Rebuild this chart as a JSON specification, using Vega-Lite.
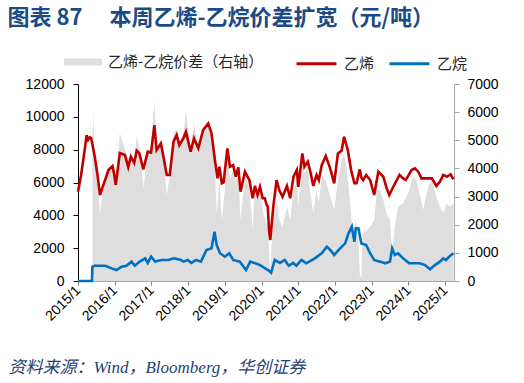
{
  "$schema": "https://vega.github.io/schema/vega-lite/v6.json",
  "width": 376,
  "height": 197,
  "autosize": {"type": "none"},
  "padding": {"left": 78, "top": 84, "right": 70, "bottom": 102},
  "background": "white",
  "config": {"view": {"stroke": null}, "axis": {"grid": false}},
  "datasets": {
    "spread": [
      {"date": "2015-05-24", "series": "乙烯-乙烷价差（右轴）", "value": 5000},
      {"date": "2015-06-03", "series": "乙烯-乙烷价差（右轴）", "value": 5960},
      {"date": "2015-06-14", "series": "乙烯-乙烷价差（右轴）", "value": 4770},
      {"date": "2015-07-13", "series": "乙烯-乙烷价差（右轴）", "value": 3800},
      {"date": "2015-08-08", "series": "乙烯-乙烷价差（右轴）", "value": 2400},
      {"date": "2015-09-06", "series": "乙烯-乙烷价差（右轴）", "value": 3230},
      {"date": "2015-10-31", "series": "乙烯-乙烷价差（右轴）", "value": 4000},
      {"date": "2015-12-10", "series": "乙烯-乙烷价差（右轴）", "value": 4150},
      {"date": "2016-01-12", "series": "乙烯-乙烷价差（右轴）", "value": 3290},
      {"date": "2016-02-21", "series": "乙烯-乙烷价差（右轴）", "value": 5250},
      {"date": "2016-03-25", "series": "乙烯-乙烷价差（右轴）", "value": 4890},
      {"date": "2016-05-15", "series": "乙烯-乙烷价差（右轴）", "value": 4290},
      {"date": "2016-06-10", "series": "乙烯-乙烷价差（右轴）", "value": 4600},
      {"date": "2016-07-13", "series": "乙烯-乙烷价差（右轴）", "value": 4300},
      {"date": "2016-08-07", "series": "乙烯-乙烷价差（右轴）", "value": 5130},
      {"date": "2016-09-12", "series": "乙烯-乙烷价差（右轴）", "value": 4650},
      {"date": "2016-10-12", "series": "乙烯-乙烷价差（右轴）", "value": 3290},
      {"date": "2016-11-25", "series": "乙烯-乙烷价差（右轴）", "value": 4650},
      {"date": "2016-12-28", "series": "乙烯-乙烷价差（右轴）", "value": 4700},
      {"date": "2017-01-30", "series": "乙烯-乙烷价差（右轴）", "value": 6430},
      {"date": "2017-02-21", "series": "乙烯-乙烷价差（右轴）", "value": 4650},
      {"date": "2017-04-05", "series": "乙烯-乙烷价差（右轴）", "value": 5000},
      {"date": "2017-04-30", "series": "乙烯-乙烷价差（右轴）", "value": 4500},
      {"date": "2017-06-02", "series": "乙烯-乙烷价差（右轴）", "value": 3060},
      {"date": "2017-07-02", "series": "乙烯-乙烷价差（右轴）", "value": 3720},
      {"date": "2017-08-08", "series": "乙烯-乙烷价差（右轴）", "value": 5250},
      {"date": "2017-09-09", "series": "乙烯-乙烷价差（右轴）", "value": 5370},
      {"date": "2017-10-05", "series": "乙烯-乙烷价差（右轴）", "value": 4890},
      {"date": "2017-11-14", "series": "乙烯-乙烷价差（右轴）", "value": 5200},
      {"date": "2017-12-10", "series": "乙烯-乙烷价差（右轴）", "value": 6010},
      {"date": "2018-01-26", "series": "乙烯-乙烷价差（右轴）", "value": 4650},
      {"date": "2018-02-28", "series": "乙烯-乙烷价差（右轴）", "value": 5600},
      {"date": "2018-04-12", "series": "乙烯-乙烷价差（右轴）", "value": 4770},
      {"date": "2018-05-30", "series": "乙烯-乙烷价差（右轴）", "value": 5480},
      {"date": "2018-07-20", "series": "乙烯-乙烷价差（右轴）", "value": 5600},
      {"date": "2018-08-22", "series": "乙烯-乙烷价差（右轴）", "value": 5070},
      {"date": "2018-09-24", "series": "乙烯-乙烷价差（右轴）", "value": 3940},
      {"date": "2018-10-12", "series": "乙烯-乙烷价差（右轴）", "value": 2400},
      {"date": "2018-11-07", "series": "乙烯-乙烷价差（右轴）", "value": 3580},
      {"date": "2018-12-02", "series": "乙烯-乙烷价差（右轴）", "value": 2170},
      {"date": "2019-01-01", "series": "乙烯-乙烷价差（右轴）", "value": 3230},
      {"date": "2019-01-26", "series": "乙烯-乙烷价差（右轴）", "value": 4590},
      {"date": "2019-02-21", "series": "乙烯-乙烷价差（右轴）", "value": 3580},
      {"date": "2019-03-25", "series": "乙烯-乙烷价差（右轴）", "value": 3940},
      {"date": "2019-04-20", "series": "乙烯-乙烷价差（右轴）", "value": 3580},
      {"date": "2019-05-15", "series": "乙烯-乙烷价差（右轴）", "value": 3880},
      {"date": "2019-06-06", "series": "乙烯-乙烷价差（右轴）", "value": 2170},
      {"date": "2019-07-20", "series": "乙烯-乙烷价差（右轴）", "value": 3700},
      {"date": "2019-09-02", "series": "乙烯-乙烷价差（右轴）", "value": 3350},
      {"date": "2019-10-05", "series": "乙烯-乙烷价差（右轴）", "value": 1810},
      {"date": "2019-10-27", "series": "乙烯-乙烷价差（右轴）", "value": 3230},
      {"date": "2019-11-22", "series": "乙烯-乙烷价差（右轴）", "value": 2900},
      {"date": "2019-12-17", "series": "乙烯-乙烷价差（右轴）", "value": 3230},
      {"date": "2020-01-19", "series": "乙烯-乙烷价差（右轴）", "value": 2400},
      {"date": "2020-02-21", "series": "乙烯-乙烷价差（右轴）", "value": 2050},
      {"date": "2020-03-06", "series": "乙烯-乙烷价差（右轴）", "value": 1810},
      {"date": "2020-03-17", "series": "乙烯-乙烷价差（右轴）", "value": 980},
      {"date": "2020-03-28", "series": "乙烯-乙烷价差（右轴）", "value": 100},
      {"date": "2020-04-12", "series": "乙烯-乙烷价差（右轴）", "value": 1500},
      {"date": "2020-04-27", "series": "乙烯-乙烷价差（右轴）", "value": 2050},
      {"date": "2020-05-30", "series": "乙烯-乙烷价差（右轴）", "value": 3000},
      {"date": "2020-06-25", "series": "乙烯-乙烷价差（右轴）", "value": 2170},
      {"date": "2020-07-28", "series": "乙烯-乙烷价差（右轴）", "value": 1930},
      {"date": "2020-09-10", "series": "乙烯-乙烷价差（右轴）", "value": 2640},
      {"date": "2020-10-12", "series": "乙烯-乙烷价差（右轴）", "value": 2170},
      {"date": "2020-11-14", "series": "乙烯-乙烷价差（右轴）", "value": 3230},
      {"date": "2020-12-17", "series": "乙烯-乙烷价差（右轴）", "value": 3580},
      {"date": "2021-01-01", "series": "乙烯-乙烷价差（右轴）", "value": 2640},
      {"date": "2021-02-10", "series": "乙烯-乙烷价差（右轴）", "value": 4300},
      {"date": "2021-03-03", "series": "乙烯-乙烷价差（右轴）", "value": 3820},
      {"date": "2021-04-05", "series": "乙烯-乙烷价差（右轴）", "value": 4060},
      {"date": "2021-04-27", "series": "乙烯-乙烷价差（右轴）", "value": 3230},
      {"date": "2021-05-30", "series": "乙烯-乙烷价差（右轴）", "value": 2400},
      {"date": "2021-07-02", "series": "乙烯-乙烷价差（右轴）", "value": 3230},
      {"date": "2021-07-24", "series": "乙烯-乙烷价差（右轴）", "value": 2760},
      {"date": "2021-08-22", "series": "乙烯-乙烷价差（右轴）", "value": 3700},
      {"date": "2021-10-01", "series": "乙烯-乙烷价差（右轴）", "value": 3580},
      {"date": "2021-11-14", "series": "乙烯-乙烷价差（右轴）", "value": 3000},
      {"date": "2021-12-24", "series": "乙烯-乙烷价差（右轴）", "value": 2520},
      {"date": "2022-01-30", "series": "乙烯-乙烷价差（右轴）", "value": 3580},
      {"date": "2022-03-08", "series": "乙烯-乙烷价差（右轴）", "value": 4300},
      {"date": "2022-04-01", "series": "乙烯-乙烷价差（右轴）", "value": 4530},
      {"date": "2022-05-08", "series": "乙烯-乙烷价差（右轴）", "value": 3700},
      {"date": "2022-06-10", "series": "乙烯-乙烷价差（右轴）", "value": 2400},
      {"date": "2022-07-02", "series": "乙烯-乙烷价差（右轴）", "value": 1220},
      {"date": "2022-07-20", "series": "乙烯-乙烷价差（右轴）", "value": 2170},
      {"date": "2022-08-22", "series": "乙烯-乙烷价差（右轴）", "value": 1460},
      {"date": "2022-09-05", "series": "乙烯-乙烷价差（右轴）", "value": 200},
      {"date": "2022-09-20", "series": "乙烯-乙烷价差（右轴）", "value": 100},
      {"date": "2022-10-01", "series": "乙烯-乙烷价差（右轴）", "value": 1700},
      {"date": "2022-11-14", "series": "乙烯-乙烷价差（右轴）", "value": 1810},
      {"date": "2022-12-17", "series": "乙烯-乙烷价差（右轴）", "value": 1930},
      {"date": "2023-01-26", "series": "乙烯-乙烷价差（右轴）", "value": 2170},
      {"date": "2023-02-21", "series": "乙烯-乙烷价差（右轴）", "value": 3230},
      {"date": "2023-03-25", "series": "乙烯-乙烷价差（右轴）", "value": 3230},
      {"date": "2023-04-27", "series": "乙烯-乙烷价差（右轴）", "value": 2880},
      {"date": "2023-05-30", "series": "乙烯-乙烷价差（右轴）", "value": 2400},
      {"date": "2023-07-02", "series": "乙烯-乙烷价差（右轴）", "value": 2170},
      {"date": "2023-07-24", "series": "乙烯-乙烷价差（右轴）", "value": 980},
      {"date": "2023-08-19", "series": "乙烯-乙烷价差（右轴）", "value": 1930},
      {"date": "2023-09-20", "series": "乙烯-乙烷价差（右轴）", "value": 2640},
      {"date": "2023-11-10", "series": "乙烯-乙烷价差（右轴）", "value": 2760},
      {"date": "2023-12-28", "series": "乙烯-乙烷价差（右轴）", "value": 3110},
      {"date": "2024-02-17", "series": "乙烯-乙烷价差（右轴）", "value": 3700},
      {"date": "2024-03-21", "series": "乙烯-乙烷价差（右轴）", "value": 3580},
      {"date": "2024-04-23", "series": "乙烯-乙烷价差（右轴）", "value": 3110},
      {"date": "2024-05-26", "series": "乙烯-乙烷价差（右轴）", "value": 2520},
      {"date": "2024-07-17", "series": "乙烯-乙烷价差（右轴）", "value": 3350},
      {"date": "2024-08-22", "series": "乙烯-乙烷价差（右轴）", "value": 3580},
      {"date": "2024-10-05", "series": "乙烯-乙烷价差（右轴）", "value": 3000},
      {"date": "2024-11-10", "series": "乙烯-乙烷价差（右轴）", "value": 2640},
      {"date": "2024-12-13", "series": "乙烯-乙烷价差（右轴）", "value": 2400},
      {"date": "2025-01-16", "series": "乙烯-乙烷价差（右轴）", "value": 2760},
      {"date": "2025-02-17", "series": "乙烯-乙烷价差（右轴）", "value": 2640},
      {"date": "2025-03-25", "series": "乙烯-乙烷价差（右轴）", "value": 2760}
    ],
    "lines": [
      {"date": "2015-01-01", "series": "乙烯", "value": 5440},
      {"date": "2015-01-30", "series": "乙烯", "value": 6400},
      {"date": "2015-02-28", "series": "乙烯", "value": 7600},
      {"date": "2015-03-28", "series": "乙烯", "value": 8890},
      {"date": "2015-04-12", "series": "乙烯", "value": 8600},
      {"date": "2015-04-30", "series": "乙烯", "value": 8750},
      {"date": "2015-05-12", "series": "乙烯", "value": 8700},
      {"date": "2015-06-17", "series": "乙烯", "value": 7570},
      {"date": "2015-07-13", "series": "乙烯", "value": 6500},
      {"date": "2015-08-08", "series": "乙烯", "value": 5240},
      {"date": "2015-09-02", "series": "乙烯", "value": 5700},
      {"date": "2015-09-28", "series": "乙烯", "value": 6150},
      {"date": "2015-10-31", "series": "乙烯", "value": 6760},
      {"date": "2015-12-10", "series": "乙烯", "value": 7000},
      {"date": "2015-12-24", "series": "乙烯", "value": 6600},
      {"date": "2016-01-12", "series": "乙烯", "value": 5850},
      {"date": "2016-02-21", "series": "乙烯", "value": 7790},
      {"date": "2016-04-12", "series": "乙烯", "value": 7670},
      {"date": "2016-05-15", "series": "乙烯", "value": 6940},
      {"date": "2016-06-10", "series": "乙烯", "value": 7570},
      {"date": "2016-07-13", "series": "乙烯", "value": 7190},
      {"date": "2016-08-07", "series": "乙烯", "value": 7940},
      {"date": "2016-09-02", "series": "乙烯", "value": 7790},
      {"date": "2016-10-12", "series": "乙烯", "value": 6800},
      {"date": "2016-11-25", "series": "乙烯", "value": 7880},
      {"date": "2016-12-28", "series": "乙烯", "value": 7820},
      {"date": "2017-01-30", "series": "乙烯", "value": 9500},
      {"date": "2017-02-21", "series": "乙烯", "value": 7980},
      {"date": "2017-04-05", "series": "乙烯", "value": 8380},
      {"date": "2017-04-30", "series": "乙烯", "value": 7570},
      {"date": "2017-06-02", "series": "乙烯", "value": 6460},
      {"date": "2017-07-02", "series": "乙烯", "value": 6460},
      {"date": "2017-08-08", "series": "乙烯", "value": 8480},
      {"date": "2017-09-09", "series": "乙烯", "value": 8890},
      {"date": "2017-10-05", "series": "乙烯", "value": 8280},
      {"date": "2017-11-14", "series": "乙烯", "value": 8690},
      {"date": "2017-12-10", "series": "乙烯", "value": 9090},
      {"date": "2018-01-26", "series": "乙烯", "value": 7880},
      {"date": "2018-02-28", "series": "乙烯", "value": 8690},
      {"date": "2018-04-12", "series": "乙烯", "value": 8080},
      {"date": "2018-05-30", "series": "乙烯", "value": 9200},
      {"date": "2018-07-20", "series": "乙烯", "value": 9600},
      {"date": "2018-08-22", "series": "乙烯", "value": 8990},
      {"date": "2018-09-24", "series": "乙烯", "value": 7370},
      {"date": "2018-10-20", "series": "乙烯", "value": 6250},
      {"date": "2018-11-07", "series": "乙烯", "value": 6960},
      {"date": "2018-12-02", "series": "乙烯", "value": 5950},
      {"date": "2018-12-20", "series": "乙烯", "value": 6010},
      {"date": "2019-01-26", "series": "乙烯", "value": 8080},
      {"date": "2019-02-21", "series": "乙烯", "value": 6960},
      {"date": "2019-03-25", "series": "乙烯", "value": 7060},
      {"date": "2019-04-20", "series": "乙烯", "value": 6350},
      {"date": "2019-05-15", "series": "乙烯", "value": 6920},
      {"date": "2019-06-06", "series": "乙烯", "value": 5440},
      {"date": "2019-07-20", "series": "乙烯", "value": 6660},
      {"date": "2019-09-02", "series": "乙烯", "value": 6150},
      {"date": "2019-10-05", "series": "乙烯", "value": 5040},
      {"date": "2019-10-27", "series": "乙烯", "value": 5790},
      {"date": "2019-11-22", "series": "乙烯", "value": 5240},
      {"date": "2019-12-17", "series": "乙烯", "value": 5740},
      {"date": "2020-01-12", "series": "乙烯", "value": 5040},
      {"date": "2020-02-02", "series": "乙烯", "value": 5040},
      {"date": "2020-02-21", "series": "乙烯", "value": 4630},
      {"date": "2020-03-03", "series": "乙烯", "value": 4530},
      {"date": "2020-03-17", "series": "乙烯", "value": 3000},
      {"date": "2020-03-28", "series": "乙烯", "value": 2500},
      {"date": "2020-04-12", "series": "乙烯", "value": 3500},
      {"date": "2020-04-27", "series": "乙烯", "value": 4530},
      {"date": "2020-05-30", "series": "乙烯", "value": 6150},
      {"date": "2020-06-25", "series": "乙烯", "value": 5540},
      {"date": "2020-07-28", "series": "乙烯", "value": 5130},
      {"date": "2020-09-10", "series": "乙烯", "value": 5790},
      {"date": "2020-10-12", "series": "乙烯", "value": 5040},
      {"date": "2020-11-14", "series": "乙烯", "value": 6350},
      {"date": "2020-12-17", "series": "乙烯", "value": 6760},
      {"date": "2021-01-01", "series": "乙烯", "value": 5740},
      {"date": "2021-02-10", "series": "乙烯", "value": 7770},
      {"date": "2021-03-03", "series": "乙烯", "value": 6960},
      {"date": "2021-04-05", "series": "乙烯", "value": 7270},
      {"date": "2021-04-27", "series": "乙烯", "value": 6760},
      {"date": "2021-05-30", "series": "乙烯", "value": 5790},
      {"date": "2021-07-02", "series": "乙烯", "value": 6460},
      {"date": "2021-07-24", "series": "乙烯", "value": 6150},
      {"date": "2021-08-22", "series": "乙烯", "value": 7060},
      {"date": "2021-10-01", "series": "乙烯", "value": 7610},
      {"date": "2021-11-14", "series": "乙烯", "value": 6860},
      {"date": "2021-12-24", "series": "乙烯", "value": 5950},
      {"date": "2022-01-30", "series": "乙烯", "value": 7770},
      {"date": "2022-03-08", "series": "乙烯", "value": 7940},
      {"date": "2022-04-01", "series": "乙烯", "value": 8790},
      {"date": "2022-05-08", "series": "乙烯", "value": 7980},
      {"date": "2022-06-10", "series": "乙烯", "value": 6760},
      {"date": "2022-07-13", "series": "乙烯", "value": 5950},
      {"date": "2022-08-03", "series": "乙烯", "value": 5950},
      {"date": "2022-09-05", "series": "乙烯", "value": 6800},
      {"date": "2022-09-20", "series": "乙烯", "value": 6300},
      {"date": "2022-10-08", "series": "乙烯", "value": 6150},
      {"date": "2022-11-07", "series": "乙烯", "value": 6460},
      {"date": "2022-12-17", "series": "乙烯", "value": 6150},
      {"date": "2023-01-26", "series": "乙烯", "value": 5240},
      {"date": "2023-03-08", "series": "乙烯", "value": 6660},
      {"date": "2023-04-27", "series": "乙烯", "value": 6350},
      {"date": "2023-05-30", "series": "乙烯", "value": 5640},
      {"date": "2023-06-25", "series": "乙烯", "value": 5240},
      {"date": "2023-08-04", "series": "乙烯", "value": 5740},
      {"date": "2023-10-05", "series": "乙烯", "value": 6460},
      {"date": "2023-11-10", "series": "乙烯", "value": 6250},
      {"date": "2023-12-06", "series": "乙烯", "value": 6150},
      {"date": "2024-02-02", "series": "乙烯", "value": 6760},
      {"date": "2024-03-06", "series": "乙烯", "value": 6860},
      {"date": "2024-04-08", "series": "乙烯", "value": 6660},
      {"date": "2024-05-11", "series": "乙烯", "value": 6250},
      {"date": "2024-07-02", "series": "乙烯", "value": 6250},
      {"date": "2024-08-22", "series": "乙烯", "value": 6250},
      {"date": "2024-10-05", "series": "乙烯", "value": 5790},
      {"date": "2024-11-10", "series": "乙烯", "value": 6050},
      {"date": "2024-12-13", "series": "乙烯", "value": 6460},
      {"date": "2025-01-19", "series": "乙烯", "value": 6350},
      {"date": "2025-02-24", "series": "乙烯", "value": 6500},
      {"date": "2025-03-25", "series": "乙烯", "value": 6190},
      {"date": "2015-01-01", "series": "乙烷", "value": 0},
      {"date": "2015-05-20", "series": "乙烷", "value": 0},
      {"date": "2015-05-24", "series": "乙烷", "value": 870},
      {"date": "2015-06-14", "series": "乙烷", "value": 930},
      {"date": "2015-09-28", "series": "乙烷", "value": 930},
      {"date": "2015-12-03", "series": "乙烷", "value": 770},
      {"date": "2016-01-19", "series": "乙烷", "value": 670},
      {"date": "2016-03-10", "series": "乙烷", "value": 870},
      {"date": "2016-04-27", "series": "乙烷", "value": 930},
      {"date": "2016-06-17", "series": "乙烷", "value": 1180},
      {"date": "2016-07-20", "series": "乙烷", "value": 930},
      {"date": "2016-09-06", "series": "乙烷", "value": 1180},
      {"date": "2016-10-31", "series": "乙烷", "value": 1380},
      {"date": "2016-11-25", "series": "乙烷", "value": 1100},
      {"date": "2016-12-28", "series": "乙烷", "value": 1480},
      {"date": "2017-02-06", "series": "乙烷", "value": 1180},
      {"date": "2017-04-12", "series": "乙烷", "value": 1280},
      {"date": "2017-06-17", "series": "乙烷", "value": 1280},
      {"date": "2017-08-15", "series": "乙烷", "value": 1380},
      {"date": "2017-10-20", "series": "乙烷", "value": 1280},
      {"date": "2017-11-14", "series": "乙烷", "value": 1180},
      {"date": "2017-12-28", "series": "乙烷", "value": 1280},
      {"date": "2018-02-02", "series": "乙烷", "value": 1100},
      {"date": "2018-03-21", "series": "乙烷", "value": 1280},
      {"date": "2018-05-08", "series": "乙烷", "value": 1180},
      {"date": "2018-07-02", "series": "乙烷", "value": 1890},
      {"date": "2018-08-22", "series": "乙烷", "value": 1990},
      {"date": "2018-09-20", "series": "乙烷", "value": 3000},
      {"date": "2018-10-12", "series": "乙烷", "value": 2190},
      {"date": "2018-11-14", "series": "乙烷", "value": 1690},
      {"date": "2019-01-01", "series": "乙烷", "value": 1480},
      {"date": "2019-02-14", "series": "乙烷", "value": 1690},
      {"date": "2019-03-25", "series": "乙烷", "value": 1280},
      {"date": "2019-05-30", "series": "乙烷", "value": 1180},
      {"date": "2019-07-31", "series": "乙烷", "value": 670},
      {"date": "2019-09-10", "series": "乙烷", "value": 1180},
      {"date": "2019-10-31", "series": "乙烷", "value": 1080},
      {"date": "2019-12-17", "series": "乙烷", "value": 970},
      {"date": "2020-02-06", "series": "乙烷", "value": 770},
      {"date": "2020-03-06", "series": "乙烷", "value": 670},
      {"date": "2020-04-05", "series": "乙烷", "value": 510},
      {"date": "2020-05-12", "series": "乙烷", "value": 1280},
      {"date": "2020-07-02", "series": "乙烷", "value": 1100},
      {"date": "2020-08-19", "series": "乙烷", "value": 1280},
      {"date": "2020-09-28", "series": "乙烷", "value": 930},
      {"date": "2020-11-10", "series": "乙烷", "value": 1100},
      {"date": "2020-12-13", "series": "乙烷", "value": 930},
      {"date": "2021-02-02", "series": "乙烷", "value": 1280},
      {"date": "2021-03-21", "series": "乙烷", "value": 1080},
      {"date": "2021-06-14", "series": "乙烷", "value": 1380},
      {"date": "2021-08-22", "series": "乙烷", "value": 1690},
      {"date": "2021-10-12", "series": "乙烷", "value": 2090},
      {"date": "2021-11-14", "series": "乙烷", "value": 1890},
      {"date": "2021-12-24", "series": "乙烷", "value": 1590},
      {"date": "2022-02-21", "series": "乙烷", "value": 1990},
      {"date": "2022-04-12", "series": "乙烷", "value": 2290},
      {"date": "2022-05-15", "series": "乙烷", "value": 2900},
      {"date": "2022-06-17", "series": "乙烷", "value": 3310},
      {"date": "2022-07-13", "series": "乙烷", "value": 2390},
      {"date": "2022-07-27", "series": "乙烷", "value": 3210},
      {"date": "2022-08-22", "series": "乙烷", "value": 3210},
      {"date": "2022-09-20", "series": "乙烷", "value": 2290},
      {"date": "2022-11-07", "series": "乙烷", "value": 2190},
      {"date": "2022-12-17", "series": "乙烷", "value": 1690},
      {"date": "2023-01-26", "series": "乙烷", "value": 1280},
      {"date": "2023-03-25", "series": "乙烷", "value": 1180},
      {"date": "2023-05-15", "series": "乙烷", "value": 1080},
      {"date": "2023-07-02", "series": "乙烷", "value": 1180},
      {"date": "2023-07-24", "series": "乙烷", "value": 1990},
      {"date": "2023-08-19", "series": "乙烷", "value": 1590},
      {"date": "2023-09-20", "series": "乙烷", "value": 1690},
      {"date": "2023-11-10", "series": "乙烷", "value": 1380},
      {"date": "2024-01-08", "series": "乙烷", "value": 1080},
      {"date": "2024-03-06", "series": "乙烷", "value": 1080},
      {"date": "2024-04-23", "series": "乙烷", "value": 1080},
      {"date": "2024-06-14", "series": "乙烷", "value": 970},
      {"date": "2024-08-04", "series": "乙烷", "value": 710},
      {"date": "2024-09-21", "series": "乙烷", "value": 970},
      {"date": "2024-11-10", "series": "乙烷", "value": 1180},
      {"date": "2024-12-13", "series": "乙烷", "value": 1380},
      {"date": "2025-01-08", "series": "乙烷", "value": 1280},
      {"date": "2025-02-17", "series": "乙烷", "value": 1520},
      {"date": "2025-03-25", "series": "乙烷", "value": 1690}
    ]
  },
  "encoding": {
    "x": {
      "field": "date", "type": "temporal",
      "scale": {"type": "utc", "domain": [{"year": 2015, "month": 1, "date": 1, "utc": true}, {"year": 2025, "month": 3, "date": 30, "utc": true}]},
      "axis": {
        "values": [
          {"year": 2015, "month": 1, "date": 1, "utc": true},
          {"year": 2016, "month": 1, "date": 1, "utc": true},
          {"year": 2017, "month": 1, "date": 1, "utc": true},
          {"year": 2018, "month": 1, "date": 1, "utc": true},
          {"year": 2019, "month": 1, "date": 1, "utc": true},
          {"year": 2020, "month": 1, "date": 1, "utc": true},
          {"year": 2021, "month": 1, "date": 1, "utc": true},
          {"year": 2022, "month": 1, "date": 1, "utc": true},
          {"year": 2023, "month": 1, "date": 1, "utc": true},
          {"year": 2024, "month": 1, "date": 1, "utc": true},
          {"year": 2025, "month": 1, "date": 1, "utc": true}
        ],
        "format": "%Y/%-m",
        "labelAngle": -45,
        "labelAlign": "right",
        "labelBaseline": "middle",
        "labelFont": "Liberation Sans",
        "labelFontSize": 14,
        "labelColor": "#000000",
        "labelPadding": 3,
        "labelFlush": false,
        "labelOverlap": false,
        "labelBound": false,
        "domainColor": "#A6A6A6",
        "tickColor": "#7F7F7F",
        "tickSize": 4,
        "title": "资料来源：Wind，Bloomberg，华创证券",
        "titleX": -70,
        "titleY": 86,
        "titleAlign": "left",
        "titleBaseline": "middle",
        "titleFont": "Liberation Serif, Noto Sans CJK SC",
        "titleFontSize": 17,
        "titleFontStyle": "italic",
        "titleFontWeight": "normal",
        "titleColor": "#1F3F73"
      }
    }
  },
  "layer": [
    {
      "data": {"name": "spread"},
      "mark": {"type": "area", "interpolate": "linear", "opacity": 1},
      "encoding": {
        "y": {
          "field": "value", "type": "quantitative",
          "scale": {"domain": [0, 7000], "nice": false},
          "axis": {
            "orient": "right",
            "values": [0, 1000, 2000, 3000, 4000, 5000, 6000, 7000],
            "format": "d",
            "title": null,
            "labelFont": "Liberation Sans",
            "labelFontSize": 14,
            "labelColor": "#000000",
            "labelPadding": 8,
            "domainColor": "#A6A6A6",
            "tickColor": "#A6A6A6",
            "tickSize": 5
          }
        },
        "fill": {
          "field": "series", "type": "nominal",
          "scale": {"range": ["#DEDEDE"]},
          "legend": {
            "orient": "none",
            "legendX": -14,
            "legendY": -41,
            "title": null,
            "symbolType": "M-1,-0.18H1V0.18H-1Z",
            "symbolSize": 1444,
            "symbolStrokeWidth": 0,
            "symbolOpacity": 1,
            "labelFont": "Noto Sans CJK SC",
            "labelFontSize": 15,
            "labelColor": "#262626",
            "labelOffset": 6
          }
        }
      }
    },
    {
      "data": {"name": "lines"},
      "mark": {"type": "line", "strokeWidth": 2.6, "interpolate": "linear"},
      "encoding": {
        "y": {
          "field": "value", "type": "quantitative",
          "scale": {"domain": [0, 12000], "nice": false},
          "axis": {
            "orient": "left",
            "values": [0, 2000, 4000, 6000, 8000, 10000, 12000],
            "format": "d",
            "labelFont": "Liberation Sans",
            "labelFontSize": 14,
            "labelColor": "#000000",
            "labelPadding": 9,
            "domainColor": "#000000",
            "tickColor": "#000000",
            "tickSize": 5,
            "title": "图表 87\u3000\u00a0本周乙烯-乙烷价差扩宽（元/吨）",
            "titleAngle": 0,
            "titleX": -71,
            "titleY": -67,
            "titleAlign": "left",
            "titleBaseline": "middle",
            "titleFont": "Noto Sans CJK SC",
            "titleFontSize": 22,
            "titleFontWeight": "bold",
            "titleColor": "#1B4A85"
          }
        },
        "stroke": {
          "field": "series", "type": "nominal",
          "scale": {"domain": ["乙烯", "乙烷"], "range": ["#C00000", "#0070C0"]},
          "legend": {
            "orient": "none",
            "direction": "horizontal",
            "legendX": 217,
            "legendY": -42,
            "title": null,
            "symbolType": "stroke",
            "symbolSize": 1600,
            "symbolStrokeWidth": 3,
            "labelFont": "Noto Sans CJK SC",
            "labelFontSize": 15,
            "labelColor": "#262626",
            "labelOffset": 6,
            "columnPadding": 8
          }
        }
      }
    }
  ],
  "resolve": {"scale": {"y": "independent"}}
}
